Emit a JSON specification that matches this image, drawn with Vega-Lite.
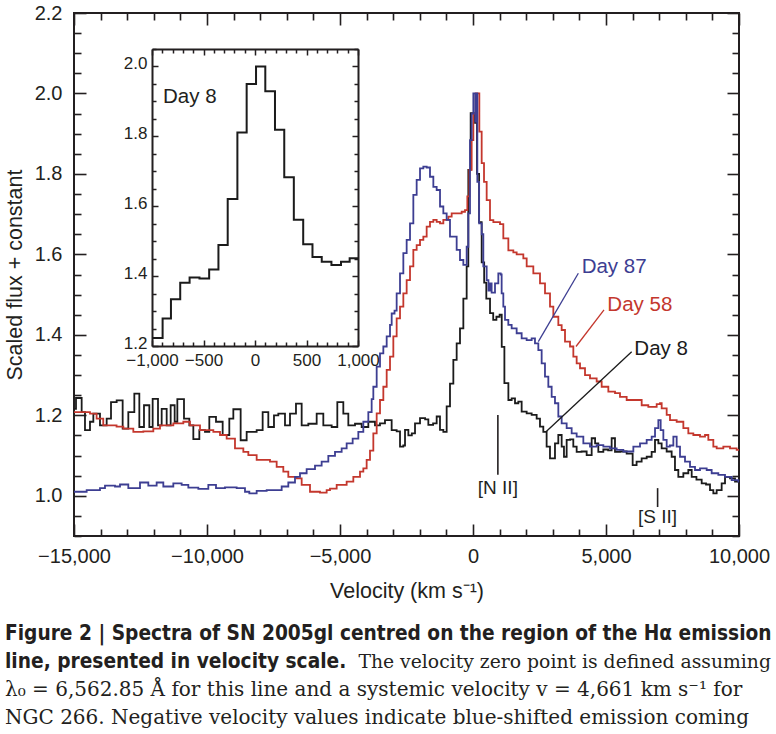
{
  "$schema": "https://vega.github.io/schema/vega-lite/v6.json",
  "width": 665,
  "height": 523,
  "autosize": "none",
  "padding": {"left": 74, "top": 13, "right": 37, "bottom": 198},
  "background": "white",
  "config": {
    "view": {"stroke": "#231f20", "strokeWidth": 2},
    "axis": {"labelFont": "Liberation Sans", "titleFont": "Liberation Sans", "labelColor": "#231f20", "titleColor": "#231f20", "titleFontWeight": "normal", "grid": false, "tickColor": "#231f20", "domain": false, "labelOverlap": false, "labelFlush": false, "labelBound": false},
    "text": {"font": "Liberation Sans"}
  },
  "datasets": {
    "spectra": [
      {"s":"Day 8","v":-15000,"f":1.216},{"s":"Day 8","v":-14925,"f":1.243},{"s":"Day 8","v":-14712,"f":1.208},{"s":"Day 8","v":-14587,"f":1.163},{"s":"Day 8","v":-14399,"f":1.184},{"s":"Day 8","v":-14273,"f":1.204},{"s":"Day 8","v":-14023,"f":1.175},{"s":"Day 8","v":-13772,"f":1.192},{"s":"Day 8","v":-13609,"f":1.233},{"s":"Day 8","v":-13396,"f":1.237},{"s":"Day 8","v":-13171,"f":1.167},{"s":"Day 8","v":-12958,"f":1.208},{"s":"Day 8","v":-12732,"f":1.254},{"s":"Day 8","v":-12544,"f":1.171},{"s":"Day 8","v":-12369,"f":1.225},{"s":"Day 8","v":-12168,"f":1.171},{"s":"Day 8","v":-12043,"f":1.241},{"s":"Day 8","v":-11842,"f":1.175},{"s":"Day 8","v":-11704,"f":1.216},{"s":"Day 8","v":-11516,"f":1.175},{"s":"Day 8","v":-11366,"f":1.225},{"s":"Day 8","v":-11216,"f":1.184},{"s":"Day 8","v":-11115,"f":1.24},{"s":"Day 8","v":-10865,"f":1.192},{"s":"Day 8","v":-10664,"f":1.175},{"s":"Day 8","v":-10514,"f":1.141},{"s":"Day 8","v":-10288,"f":1.163},{"s":"Day 8","v":-10076,"f":1.159},{"s":"Day 8","v":-9913,"f":1.196},{"s":"Day 8","v":-9662,"f":1.184},{"s":"Day 8","v":-9411,"f":1.151},{"s":"Day 8","v":-9161,"f":1.192},{"s":"Day 8","v":-9010,"f":1.215},{"s":"Day 8","v":-8735,"f":1.138},{"s":"Day 8","v":-8509,"f":1.159},{"s":"Day 8","v":-8133,"f":1.163},{"s":"Day 8","v":-7908,"f":1.208},{"s":"Day 8","v":-7695,"f":1.171},{"s":"Day 8","v":-7482,"f":1.2},{"s":"Day 8","v":-7319,"f":1.204},{"s":"Day 8","v":-7068,"f":1.175},{"s":"Day 8","v":-6880,"f":1.204},{"s":"Day 8","v":-6655,"f":1.229},{"s":"Day 8","v":-6441,"f":1.175},{"s":"Day 8","v":-6191,"f":1.179},{"s":"Day 8","v":-5877,"f":1.204},{"s":"Day 8","v":-5627,"f":1.175},{"s":"Day 8","v":-5313,"f":1.171},{"s":"Day 8","v":-5101,"f":1.233},{"s":"Day 8","v":-4875,"f":1.204},{"s":"Day 8","v":-4687,"f":1.175},{"s":"Day 8","v":-4436,"f":1.179},{"s":"Day 8","v":-4186,"f":1.171},{"s":"Day 8","v":-3935,"f":1.184},{"s":"Day 8","v":-3685,"f":1.175},{"s":"Day 8","v":-3497,"f":1.18},{"s":"Day 8","v":-3309,"f":1.188},{"s":"Day 8","v":-3058,"f":1.163},{"s":"Day 8","v":-2870,"f":1.16},{"s":"Day 8","v":-2744,"f":1.122},{"s":"Day 8","v":-2620,"f":1.125},{"s":"Day 8","v":-2556,"f":1.164},{"s":"Day 8","v":-2430,"f":1.15},{"s":"Day 8","v":-2300,"f":1.155},{"s":"Day 8","v":-2180,"f":1.18},{"s":"Day 8","v":-1992,"f":1.193},{"s":"Day 8","v":-1800,"f":1.19},{"s":"Day 8","v":-1679,"f":1.176},{"s":"Day 8","v":-1500,"f":1.18},{"s":"Day 8","v":-1366,"f":1.197},{"s":"Day 8","v":-1241,"f":1.164},{"s":"Day 8","v":-1115,"f":1.159},{"s":"Day 8","v":-990,"f":1.222},{"s":"Day 8","v":-865,"f":1.279},{"s":"Day 8","v":-739,"f":1.338},{"s":"Day 8","v":-614,"f":1.379},{"s":"Day 8","v":-489,"f":1.416},{"s":"Day 8","v":-363,"f":1.49},{"s":"Day 8","v":-238,"f":1.57},{"s":"Day 8","v":-176,"f":1.81},{"s":"Day 8","v":-88,"f":1.951},{"s":"Day 8","v":75,"f":1.927},{"s":"Day 8","v":150,"f":1.8},{"s":"Day 8","v":230,"f":1.68},{"s":"Day 8","v":326,"f":1.58},{"s":"Day 8","v":420,"f":1.53},{"s":"Day 8","v":500,"f":1.49},{"s":"Day 8","v":640,"f":1.454},{"s":"Day 8","v":760,"f":1.437},{"s":"Day 8","v":880,"f":1.445},{"s":"Day 8","v":1000,"f":1.45},{"s":"Day 8","v":1080,"f":1.37},{"s":"Day 8","v":1180,"f":1.28},{"s":"Day 8","v":1330,"f":1.238},{"s":"Day 8","v":1453,"f":1.242},{"s":"Day 8","v":1579,"f":1.23},{"s":"Day 8","v":1704,"f":1.234},{"s":"Day 8","v":1829,"f":1.209},{"s":"Day 8","v":2017,"f":1.205},{"s":"Day 8","v":2205,"f":1.201},{"s":"Day 8","v":2393,"f":1.192},{"s":"Day 8","v":2518,"f":1.172},{"s":"Day 8","v":2643,"f":1.159},{"s":"Day 8","v":2768,"f":1.122},{"s":"Day 8","v":2894,"f":1.093},{"s":"Day 8","v":3082,"f":1.13},{"s":"Day 8","v":3207,"f":1.151},{"s":"Day 8","v":3333,"f":1.122},{"s":"Day 8","v":3420,"f":1.097},{"s":"Day 8","v":3521,"f":1.139},{"s":"Day 8","v":3650,"f":1.14},{"s":"Day 8","v":3771,"f":1.122},{"s":"Day 8","v":3897,"f":1.109},{"s":"Day 8","v":4080,"f":1.11},{"s":"Day 8","v":4273,"f":1.101},{"s":"Day 8","v":4461,"f":1.143},{"s":"Day 8","v":4590,"f":1.13},{"s":"Day 8","v":4711,"f":1.109},{"s":"Day 8","v":4900,"f":1.115},{"s":"Day 8","v":5080,"f":1.113},{"s":"Day 8","v":5212,"f":1.143},{"s":"Day 8","v":5338,"f":1.109},{"s":"Day 8","v":5530,"f":1.11},{"s":"Day 8","v":5776,"f":1.105},{"s":"Day 8","v":6002,"f":1.076},{"s":"Day 8","v":6150,"f":1.085},{"s":"Day 8","v":6340,"f":1.093},{"s":"Day 8","v":6530,"f":1.097},{"s":"Day 8","v":6716,"f":1.109},{"s":"Day 8","v":6842,"f":1.139},{"s":"Day 8","v":6968,"f":1.13},{"s":"Day 8","v":7092,"f":1.118},{"s":"Day 8","v":7280,"f":1.11},{"s":"Day 8","v":7468,"f":1.097},{"s":"Day 8","v":7593,"f":1.064},{"s":"Day 8","v":7719,"f":1.047},{"s":"Day 8","v":7908,"f":1.056},{"s":"Day 8","v":8095,"f":1.064},{"s":"Day 8","v":8221,"f":1.047},{"s":"Day 8","v":8400,"f":1.04},{"s":"Day 8","v":8597,"f":1.031},{"s":"Day 8","v":8760,"f":1.028},{"s":"Day 8","v":8910,"f":1.014},{"s":"Day 8","v":9035,"f":1.006},{"s":"Day 8","v":9160,"f":1.014},{"s":"Day 8","v":9348,"f":1.031},{"s":"Day 8","v":9474,"f":1.047},{"s":"Day 8","v":9662,"f":1.043},{"s":"Day 8","v":9850,"f":1.035},{"s":"Day 8","v":10000,"f":1.035},
      {"s":"Day 58","v":-15000,"f":1.208},{"s":"Day 58","v":-14399,"f":1.204},{"s":"Day 58","v":-14150,"f":1.192},{"s":"Day 58","v":-13900,"f":1.175},{"s":"Day 58","v":-13400,"f":1.172},{"s":"Day 58","v":-13145,"f":1.167},{"s":"Day 58","v":-12770,"f":1.159},{"s":"Day 58","v":-12394,"f":1.16},{"s":"Day 58","v":-12018,"f":1.167},{"s":"Day 58","v":-11767,"f":1.175},{"s":"Day 58","v":-11266,"f":1.18},{"s":"Day 58","v":-10890,"f":1.184},{"s":"Day 58","v":-10639,"f":1.175},{"s":"Day 58","v":-10263,"f":1.163},{"s":"Day 58","v":-9762,"f":1.159},{"s":"Day 58","v":-9511,"f":1.151},{"s":"Day 58","v":-9261,"f":1.142},{"s":"Day 58","v":-8948,"f":1.118},{"s":"Day 58","v":-8634,"f":1.109},{"s":"Day 58","v":-8446,"f":1.101},{"s":"Day 58","v":-8133,"f":1.089},{"s":"Day 58","v":-7632,"f":1.085},{"s":"Day 58","v":-7381,"f":1.072},{"s":"Day 58","v":-7131,"f":1.06},{"s":"Day 58","v":-6943,"f":1.047},{"s":"Day 58","v":-6629,"f":1.043},{"s":"Day 58","v":-6441,"f":1.027},{"s":"Day 58","v":-6128,"f":1.01},{"s":"Day 58","v":-5752,"f":1.008},{"s":"Day 58","v":-5502,"f":1.014},{"s":"Day 58","v":-5376,"f":1.018},{"s":"Day 58","v":-5125,"f":1.027},{"s":"Day 58","v":-4750,"f":1.035},{"s":"Day 58","v":-4499,"f":1.047},{"s":"Day 58","v":-4248,"f":1.06},{"s":"Day 58","v":-4123,"f":1.068},{"s":"Day 58","v":-3998,"f":1.089},{"s":"Day 58","v":-3872,"f":1.112},{"s":"Day 58","v":-3747,"f":1.155},{"s":"Day 58","v":-3621,"f":1.205},{"s":"Day 58","v":-3496,"f":1.238},{"s":"Day 58","v":-3371,"f":1.271},{"s":"Day 58","v":-3245,"f":1.313},{"s":"Day 58","v":-3120,"f":1.346},{"s":"Day 58","v":-2995,"f":1.396},{"s":"Day 58","v":-2870,"f":1.441},{"s":"Day 58","v":-2744,"f":1.47},{"s":"Day 58","v":-2619,"f":1.503},{"s":"Day 58","v":-2494,"f":1.536},{"s":"Day 58","v":-2368,"f":1.57},{"s":"Day 58","v":-2243,"f":1.611},{"s":"Day 58","v":-2118,"f":1.623},{"s":"Day 58","v":-1992,"f":1.636},{"s":"Day 58","v":-1867,"f":1.644},{"s":"Day 58","v":-1742,"f":1.669},{"s":"Day 58","v":-1617,"f":1.681},{"s":"Day 58","v":-1491,"f":1.686},{"s":"Day 58","v":-1366,"f":1.681},{"s":"Day 58","v":-1240,"f":1.677},{"s":"Day 58","v":-1115,"f":1.686},{"s":"Day 58","v":-927,"f":1.694},{"s":"Day 58","v":-802,"f":1.702},{"s":"Day 58","v":-614,"f":1.702},{"s":"Day 58","v":-426,"f":1.706},{"s":"Day 58","v":-301,"f":1.71},{"s":"Day 58","v":-213,"f":1.744},{"s":"Day 58","v":-138,"f":1.81},{"s":"Day 58","v":-50,"f":1.884},{"s":"Day 58","v":13,"f":1.95},{"s":"Day 58","v":100,"f":2.0},{"s":"Day 58","v":238,"f":1.905},{"s":"Day 58","v":326,"f":1.827},{"s":"Day 58","v":414,"f":1.78},{"s":"Day 58","v":514,"f":1.735},{"s":"Day 58","v":639,"f":1.685},{"s":"Day 58","v":765,"f":1.68},{"s":"Day 58","v":1015,"f":1.675},{"s":"Day 58","v":1140,"f":1.64},{"s":"Day 58","v":1329,"f":1.61},{"s":"Day 58","v":1516,"f":1.605},{"s":"Day 58","v":1641,"f":1.6},{"s":"Day 58","v":1892,"f":1.59},{"s":"Day 58","v":2018,"f":1.57},{"s":"Day 58","v":2268,"f":1.553},{"s":"Day 58","v":2519,"f":1.528},{"s":"Day 58","v":2707,"f":1.503},{"s":"Day 58","v":2895,"f":1.47},{"s":"Day 58","v":3020,"f":1.445},{"s":"Day 58","v":3208,"f":1.424},{"s":"Day 58","v":3333,"f":1.412},{"s":"Day 58","v":3459,"f":1.383},{"s":"Day 58","v":3647,"f":1.371},{"s":"Day 58","v":3772,"f":1.346},{"s":"Day 58","v":3897,"f":1.329},{"s":"Day 58","v":4023,"f":1.317},{"s":"Day 58","v":4211,"f":1.3},{"s":"Day 58","v":4399,"f":1.292},{"s":"Day 58","v":4649,"f":1.284},{"s":"Day 58","v":4837,"f":1.271},{"s":"Day 58","v":5088,"f":1.259},{"s":"Day 58","v":5339,"f":1.255},{"s":"Day 58","v":5526,"f":1.246},{"s":"Day 58","v":5777,"f":1.238},{"s":"Day 58","v":6090,"f":1.238},{"s":"Day 58","v":6341,"f":1.225},{"s":"Day 58","v":6591,"f":1.221},{"s":"Day 58","v":6905,"f":1.228},{"s":"Day 58","v":7030,"f":1.23},{"s":"Day 58","v":7093,"f":1.217},{"s":"Day 58","v":7281,"f":1.201},{"s":"Day 58","v":7406,"f":1.188},{"s":"Day 58","v":7657,"f":1.184},{"s":"Day 58","v":7908,"f":1.168},{"s":"Day 58","v":8095,"f":1.155},{"s":"Day 58","v":8283,"f":1.151},{"s":"Day 58","v":8534,"f":1.147},{"s":"Day 58","v":8722,"f":1.151},{"s":"Day 58","v":8847,"f":1.139},{"s":"Day 58","v":9035,"f":1.122},{"s":"Day 58","v":9161,"f":1.118},{"s":"Day 58","v":9411,"f":1.122},{"s":"Day 58","v":9662,"f":1.118},{"s":"Day 58","v":9913,"f":1.114},{"s":"Day 58","v":10000,"f":1.114},
      {"s":"Day 87","v":-15000,"f":1.01},{"s":"Day 87","v":-14524,"f":1.014},{"s":"Day 87","v":-14023,"f":1.019},{"s":"Day 87","v":-13835,"f":1.025},{"s":"Day 87","v":-13459,"f":1.023},{"s":"Day 87","v":-13271,"f":1.028},{"s":"Day 87","v":-12958,"f":1.019},{"s":"Day 87","v":-12519,"f":1.033},{"s":"Day 87","v":-12206,"f":1.025},{"s":"Day 87","v":-11893,"f":1.033},{"s":"Day 87","v":-11642,"f":1.023},{"s":"Day 87","v":-11266,"f":1.031},{"s":"Day 87","v":-10953,"f":1.027},{"s":"Day 87","v":-10702,"f":1.02},{"s":"Day 87","v":-10326,"f":1.017},{"s":"Day 87","v":-9950,"f":1.027},{"s":"Day 87","v":-9662,"f":1.019},{"s":"Day 87","v":-9324,"f":1.021},{"s":"Day 87","v":-8885,"f":1.019},{"s":"Day 87","v":-8572,"f":1.01},{"s":"Day 87","v":-8409,"f":1.006},{"s":"Day 87","v":-8133,"f":1.012},{"s":"Day 87","v":-7757,"f":1.014},{"s":"Day 87","v":-7444,"f":1.014},{"s":"Day 87","v":-7193,"f":1.023},{"s":"Day 87","v":-6943,"f":1.033},{"s":"Day 87","v":-6692,"f":1.047},{"s":"Day 87","v":-6504,"f":1.056},{"s":"Day 87","v":-6254,"f":1.066},{"s":"Day 87","v":-5940,"f":1.075},{"s":"Day 87","v":-5690,"f":1.085},{"s":"Day 87","v":-5439,"f":1.099},{"s":"Day 87","v":-5188,"f":1.109},{"s":"Day 87","v":-4938,"f":1.118},{"s":"Day 87","v":-4750,"f":1.13},{"s":"Day 87","v":-4524,"f":1.142},{"s":"Day 87","v":-4311,"f":1.159},{"s":"Day 87","v":-4123,"f":1.184},{"s":"Day 87","v":-3935,"f":1.208},{"s":"Day 87","v":-3810,"f":1.24},{"s":"Day 87","v":-3747,"f":1.271},{"s":"Day 87","v":-3621,"f":1.321},{"s":"Day 87","v":-3496,"f":1.354},{"s":"Day 87","v":-3371,"f":1.371},{"s":"Day 87","v":-3245,"f":1.396},{"s":"Day 87","v":-3120,"f":1.425},{"s":"Day 87","v":-3057,"f":1.453},{"s":"Day 87","v":-2950,"f":1.46},{"s":"Day 87","v":-2870,"f":1.503},{"s":"Day 87","v":-2744,"f":1.553},{"s":"Day 87","v":-2619,"f":1.603},{"s":"Day 87","v":-2494,"f":1.636},{"s":"Day 87","v":-2368,"f":1.677},{"s":"Day 87","v":-2243,"f":1.748},{"s":"Day 87","v":-2118,"f":1.785},{"s":"Day 87","v":-1992,"f":1.814},{"s":"Day 87","v":-1867,"f":1.818},{"s":"Day 87","v":-1742,"f":1.816},{"s":"Day 87","v":-1617,"f":1.793},{"s":"Day 87","v":-1491,"f":1.768},{"s":"Day 87","v":-1366,"f":1.76},{"s":"Day 87","v":-1240,"f":1.719},{"s":"Day 87","v":-1115,"f":1.702},{"s":"Day 87","v":-990,"f":1.686},{"s":"Day 87","v":-865,"f":1.644},{"s":"Day 87","v":-740,"f":1.644},{"s":"Day 87","v":-614,"f":1.611},{"s":"Day 87","v":-489,"f":1.586},{"s":"Day 87","v":-363,"f":1.574},{"s":"Day 87","v":-238,"f":1.619},{"s":"Day 87","v":-175,"f":1.702},{"s":"Day 87","v":-113,"f":1.884},{"s":"Day 87","v":-50,"f":1.95},{"s":"Day 87","v":13,"f":2.0},{"s":"Day 87","v":90,"f":1.93},{"s":"Day 87","v":120,"f":2.0},{"s":"Day 87","v":163,"f":1.78},{"s":"Day 87","v":230,"f":1.677},{"s":"Day 87","v":326,"f":1.65},{"s":"Day 87","v":388,"f":1.57},{"s":"Day 87","v":514,"f":1.536},{"s":"Day 87","v":580,"f":1.51},{"s":"Day 87","v":639,"f":1.528},{"s":"Day 87","v":700,"f":1.505},{"s":"Day 87","v":827,"f":1.528},{"s":"Day 87","v":952,"f":1.553},{"s":"Day 87","v":1040,"f":1.55},{"s":"Day 87","v":1077,"f":1.503},{"s":"Day 87","v":1140,"f":1.47},{"s":"Day 87","v":1203,"f":1.437},{"s":"Day 87","v":1328,"f":1.425},{"s":"Day 87","v":1453,"f":1.416},{"s":"Day 87","v":1641,"f":1.404},{"s":"Day 87","v":1829,"f":1.391},{"s":"Day 87","v":2017,"f":1.387},{"s":"Day 87","v":2205,"f":1.391},{"s":"Day 87","v":2330,"f":1.379},{"s":"Day 87","v":2456,"f":1.362},{"s":"Day 87","v":2581,"f":1.329},{"s":"Day 87","v":2706,"f":1.296},{"s":"Day 87","v":2832,"f":1.271},{"s":"Day 87","v":2957,"f":1.246},{"s":"Day 87","v":3082,"f":1.23},{"s":"Day 87","v":3208,"f":1.197},{"s":"Day 87","v":3333,"f":1.18},{"s":"Day 87","v":3521,"f":1.168},{"s":"Day 87","v":3709,"f":1.155},{"s":"Day 87","v":3897,"f":1.147},{"s":"Day 87","v":4148,"f":1.13},{"s":"Day 87","v":4399,"f":1.122},{"s":"Day 87","v":4649,"f":1.126},{"s":"Day 87","v":4900,"f":1.122},{"s":"Day 87","v":5150,"f":1.118},{"s":"Day 87","v":5401,"f":1.114},{"s":"Day 87","v":5652,"f":1.11},{"s":"Day 87","v":5900,"f":1.11},{"s":"Day 87","v":6028,"f":1.122},{"s":"Day 87","v":6279,"f":1.13},{"s":"Day 87","v":6529,"f":1.139},{"s":"Day 87","v":6717,"f":1.147},{"s":"Day 87","v":6843,"f":1.168},{"s":"Day 87","v":6968,"f":1.188},{"s":"Day 87","v":7055,"f":1.163},{"s":"Day 87","v":7156,"f":1.139},{"s":"Day 87","v":7281,"f":1.122},{"s":"Day 87","v":7400,"f":1.125},{"s":"Day 87","v":7532,"f":1.147},{"s":"Day 87","v":7657,"f":1.122},{"s":"Day 87","v":7782,"f":1.097},{"s":"Day 87","v":7970,"f":1.085},{"s":"Day 87","v":8158,"f":1.072},{"s":"Day 87","v":8346,"f":1.064},{"s":"Day 87","v":8534,"f":1.068},{"s":"Day 87","v":8785,"f":1.064},{"s":"Day 87","v":8972,"f":1.056},{"s":"Day 87","v":9223,"f":1.052},{"s":"Day 87","v":9474,"f":1.047},{"s":"Day 87","v":9724,"f":1.039},{"s":"Day 87","v":9975,"f":1.035},{"s":"Day 87","v":10000,"f":1.035}
    ],
    "inset": [
      {"v":-1000,"f":1.223},{"v":-897,"f":1.279},{"v":-816,"f":1.334},{"v":-726,"f":1.381},{"v":-635,"f":1.396},{"v":-539,"f":1.393},{"v":-445,"f":1.419},{"v":-355,"f":1.489},{"v":-265,"f":1.621},{"v":-171,"f":1.811},{"v":-81,"f":1.95},{"v":10,"f":2.0},{"v":100,"f":1.929},{"v":194,"f":1.819},{"v":284,"f":1.683},{"v":377,"f":1.561},{"v":468,"f":1.491},{"v":558,"f":1.455},{"v":648,"f":1.441},{"v":742,"f":1.432},{"v":835,"f":1.441},{"v":919,"f":1.451},{"v":1000,"f":1.451}
    ],
    "leaders": [
      {"s":"Day 87","v":2456,"f":1.383,"v2":3960,"f2":1.553},
      {"s":"Day 58","v":3872,"f":1.371,"v2":4925,"f2":1.462},
      {"s":"Day 8","v":2744,"f":1.159,"v2":5965,"f2":1.358}
    ],
    "daylabels": [
      {"s":"Day 87","v":4085,"f":1.569},
      {"s":"Day 58","v":5050,"f":1.474},
      {"s":"Day 8","v":6065,"f":1.366}
    ],
    "lineids": [
      {"id":"[N II]","v":935,"f":1.201,"f2":1.052,"ly":1.019},
      {"id":"[S II]","v":6940,"f":1.019,"f2":0.972,"ly":0.948}
    ],
    "insetlabel": [{"t":"Day 8","v":-893,"f":1.914}],
    "caption": [
      {"line":1,"edge":"left","part":"bold","text":"Figure 2 | Spectra of SN 2005gl centred on the region of the Hα emission"},
      {"line":2,"edge":"left","part":"bold","text":"line, presented in velocity scale."},
      {"line":2,"edge":"right","part":"serif","text":"The velocity zero point is defined assuming"},
      {"line":3,"edge":"left","part":"serif","text":"λ₀ = 6,562.85 Å for this line and a systemic velocity v = 4,661 km s⁻¹ for"},
      {"line":4,"edge":"left","part":"serif","text":"NGC 266. Negative velocity values indicate blue-shifted emission coming"}
    ]
  },
  "layer": [
    {
      "data": {"name": "spectra"},
      "mark": {"type": "line", "interpolate": "step-after", "strokeWidth": 1.8},
      "encoding": {
        "x": {"field": "v", "type": "quantitative",
          "scale": {"domain": [-15000, 10000], "nice": false, "zero": false},
          "axis": {"orient": "bottom", "values": [-15000,-14000,-13000,-12000,-11000,-10000,-9000,-8000,-7000,-6000,-5000,-4000,-3000,-2000,-1000,0,1000,2000,3000,4000,5000,6000,7000,8000,9000,10000],
            "labelExpr": "datum.value % 5000 === 0 ? format(datum.value, ',') : ''",
            "tickSize": {"condition": {"test": "datum.value % 5000 === 0", "value": -12}, "value": -7},
            "tickWidth": 1.6, "labelFontSize": 20, "labelPadding": 22,
            "title": "Velocity (km s⁻¹)", "titleFontSize": 21.5, "titlePadding": 9}},
        "y": {"field": "f", "type": "quantitative",
          "scale": {"domain": [0.9, 2.2], "nice": false, "zero": false},
          "axis": {"orient": "left", "values": [0.9,0.95,1,1.05,1.1,1.15,1.2,1.25,1.3,1.35,1.4,1.45,1.5,1.55,1.6,1.65,1.7,1.75,1.8,1.85,1.9,1.95,2,2.05,2.1,2.15,2.2],
            "labelExpr": "abs(datum.value*5 - round(datum.value*5)) < 0.001 ? format(datum.value, '.1f') : ''",
            "tickSize": {"condition": {"test": "abs(datum.value*5 - round(datum.value*5)) < 0.001", "value": -12}, "value": -7},
            "tickWidth": 1.6, "labelFontSize": 20, "labelPadding": 24,
            "title": "Scaled flux + constant", "titleFontSize": 21.5, "titlePadding": 8}},
        "color": {"field": "s", "type": "nominal", "scale": {"domain": ["Day 8", "Day 58", "Day 87"], "range": ["#1b1b1b", "#c4372d", "#3d3e92"]}, "legend": null}
      }
    },
    {
      "data": {"name": "leaders"},
      "mark": {"type": "rule", "strokeWidth": 1.3},
      "encoding": {
        "x": {"field": "v", "type": "quantitative",
          "scale": {"domain": [-15000, 10000], "nice": false, "zero": false},
          "axis": {"orient": "top", "values": [-15000,-14000,-13000,-12000,-11000,-10000,-9000,-8000,-7000,-6000,-5000,-4000,-3000,-2000,-1000,0,1000,2000,3000,4000,5000,6000,7000,8000,9000,10000],
            "labels": false, "title": null,
            "tickSize": {"condition": {"test": "datum.value % 5000 === 0", "value": -12}, "value": -7}, "tickWidth": 1.6}},
        "x2": {"field": "v2"},
        "y": {"field": "f", "type": "quantitative",
          "scale": {"domain": [0.9, 2.2], "nice": false, "zero": false},
          "axis": {"orient": "right", "values": [0.9,0.95,1,1.05,1.1,1.15,1.2,1.25,1.3,1.35,1.4,1.45,1.5,1.55,1.6,1.65,1.7,1.75,1.8,1.85,1.9,1.95,2,2.05,2.1,2.15,2.2],
            "labels": false, "title": null,
            "tickSize": {"condition": {"test": "abs(datum.value*5 - round(datum.value*5)) < 0.001", "value": -12}, "value": -7}, "tickWidth": 1.6}},
        "y2": {"field": "f2"},
        "color": {"field": "s", "type": "nominal", "legend": null}
      }
    },
    {
      "data": {"name": "daylabels"},
      "mark": {"type": "text", "align": "left", "baseline": "middle", "fontSize": 20.5, "font": "Liberation Sans"},
      "encoding": {
        "x": {"field": "v", "type": "quantitative", "scale": {"domain": [-15000, 10000], "nice": false, "zero": false}, "axis": null},
        "y": {"field": "f", "type": "quantitative", "scale": {"domain": [0.9, 2.2], "nice": false, "zero": false}, "axis": null},
        "text": {"field": "s"},
        "color": {"field": "s", "type": "nominal", "legend": null}
      }
    },
    {
      "data": {"name": "lineids"},
      "mark": {"type": "rule", "strokeWidth": 1.6, "color": "#231f20"},
      "encoding": {
        "x": {"field": "v", "type": "quantitative", "scale": {"domain": [-15000, 10000], "nice": false, "zero": false}, "axis": null},
        "y": {"field": "f", "type": "quantitative", "scale": {"domain": [0.9, 2.2], "nice": false, "zero": false}, "axis": null},
        "y2": {"field": "f2"}
      }
    },
    {
      "data": {"name": "lineids"},
      "mark": {"type": "text", "align": "center", "baseline": "middle", "fontSize": 19, "font": "Liberation Sans", "color": "#231f20"},
      "encoding": {
        "x": {"field": "v", "type": "quantitative", "scale": {"domain": [-15000, 10000], "nice": false, "zero": false}, "axis": null},
        "y": {"field": "ly", "type": "quantitative", "scale": {"domain": [0.9, 2.2], "nice": false, "zero": false}, "axis": null},
        "text": {"field": "id"}
      }
    },
    {
      "data": {"name": "inset"},
      "mark": {"type": "line", "interpolate": "step-after", "strokeWidth": 2, "color": "#1b1b1b"},
      "encoding": {
        "x": {"field": "v", "type": "quantitative",
          "scale": {"domain": [-1000, 1000], "range": [78, 284], "nice": false, "zero": false},
          "axis": {"orient": "bottom", "offset": -190, "domain": true, "domainColor": "#231f20", "domainWidth": 2,
            "values": [-1000,-900,-800,-700,-600,-500,-400,-300,-200,-100,0,100,200,300,400,500,600,700,800,900,1000],
            "labelExpr": "datum.value % 500 === 0 ? format(datum.value, ',') : ''",
            "tickSize": {"condition": {"test": "datum.value % 500 === 0", "value": -6}, "value": -4}, "tickWidth": 1.5,
            "labelFontSize": 17, "labelPadding": 12, "title": null}},
        "y": {"field": "f", "type": "quantitative",
          "scale": {"domain": [1.2, 2.05], "range": [333, 36], "nice": false, "zero": false},
          "axis": {"orient": "left", "offset": -78, "domain": true, "domainColor": "#231f20", "domainWidth": 2,
            "values": [1.2,1.25,1.3,1.35,1.4,1.45,1.5,1.55,1.6,1.65,1.7,1.75,1.8,1.85,1.9,1.95,2,2.05],
            "labelExpr": "abs(datum.value*5 - round(datum.value*5)) < 0.001 ? format(datum.value, '.1f') : ''",
            "tickSize": {"condition": {"test": "abs(datum.value*5 - round(datum.value*5)) < 0.001", "value": -6}, "value": -4}, "tickWidth": 1.5,
            "labelFontSize": 17, "labelPadding": 11, "labelOffset": -3, "title": null}}
      }
    },
    {
      "data": {"name": "insetlabel"},
      "mark": {"type": "text", "align": "left", "baseline": "middle", "fontSize": 20.5, "font": "Liberation Sans", "color": "#231f20"},
      "encoding": {
        "x": {"field": "v", "type": "quantitative",
          "scale": {"domain": [-1000, 1000], "range": [78, 284], "nice": false, "zero": false},
          "axis": {"orient": "top", "offset": -36, "domain": true, "domainColor": "#231f20", "domainWidth": 2,
            "values": [-1000,-900,-800,-700,-600,-500,-400,-300,-200,-100,0,100,200,300,400,500,600,700,800,900,1000],
            "labels": false, "title": null,
            "tickSize": {"condition": {"test": "datum.value % 500 === 0", "value": -6}, "value": -4}, "tickWidth": 1.5}},
        "y": {"field": "f", "type": "quantitative",
          "scale": {"domain": [1.2, 2.05], "range": [333, 36], "nice": false, "zero": false},
          "axis": {"orient": "right", "offset": -381, "domain": true, "domainColor": "#231f20", "domainWidth": 2,
            "values": [1.2,1.25,1.3,1.35,1.4,1.45,1.5,1.55,1.6,1.65,1.7,1.75,1.8,1.85,1.9,1.95,2,2.05],
            "labels": false, "title": null,
            "tickSize": {"condition": {"test": "abs(datum.value*5 - round(datum.value*5)) < 0.001", "value": -6}, "value": -4}, "tickWidth": 1.5}},
        "text": {"field": "t"}
      }
    },
    {
      "data": {"name": "caption"},
      "transform": [{"filter": "datum.part === 'bold'"}],
      "mark": {"type": "text", "align": "left", "baseline": "alphabetic", "fontSize": 20.7, "fontWeight": "bold", "font": "DejaVu Sans Condensed, Liberation Sans Narrow, sans-serif", "color": "#231f20"},
      "encoding": {
        "x": {"field": "edge", "type": "nominal", "scale": {"type": "point", "domain": ["left", "right"], "range": [-69, 697], "padding": 0}, "axis": null},
        "y": {"field": "line", "type": "quantitative", "scale": {"domain": [1, 4], "range": [627, 711], "nice": false, "zero": false}, "axis": null},
        "text": {"field": "text"}
      }
    },
    {
      "data": {"name": "caption"},
      "transform": [{"filter": "datum.part === 'serif' && datum.edge === 'left'"}],
      "mark": {"type": "text", "align": "left", "baseline": "alphabetic", "fontSize": 20, "font": "DejaVu Serif, Liberation Serif, serif", "color": "#231f20"},
      "encoding": {
        "x": {"field": "edge", "type": "nominal", "scale": {"type": "point", "domain": ["left", "right"], "range": [-69, 697], "padding": 0}, "axis": null},
        "y": {"field": "line", "type": "quantitative", "scale": {"domain": [1, 4], "range": [627, 711], "nice": false, "zero": false}, "axis": null},
        "text": {"field": "text"}
      }
    },
    {
      "data": {"name": "caption"},
      "transform": [{"filter": "datum.part === 'serif' && datum.edge === 'right'"}],
      "mark": {"type": "text", "align": "right", "baseline": "alphabetic", "fontSize": 18.8, "font": "DejaVu Serif, Liberation Serif, serif", "color": "#231f20"},
      "encoding": {
        "x": {"field": "edge", "type": "nominal", "scale": {"type": "point", "domain": ["left", "right"], "range": [-69, 697], "padding": 0}, "axis": null},
        "y": {"field": "line", "type": "quantitative", "scale": {"domain": [1, 4], "range": [627, 711], "nice": false, "zero": false}, "axis": null},
        "text": {"field": "text"}
      }
    }
  ],
  "resolve": {"scale": {"x": "independent", "y": "independent"}, "axis": {"x": "independent", "y": "independent"}}
}
